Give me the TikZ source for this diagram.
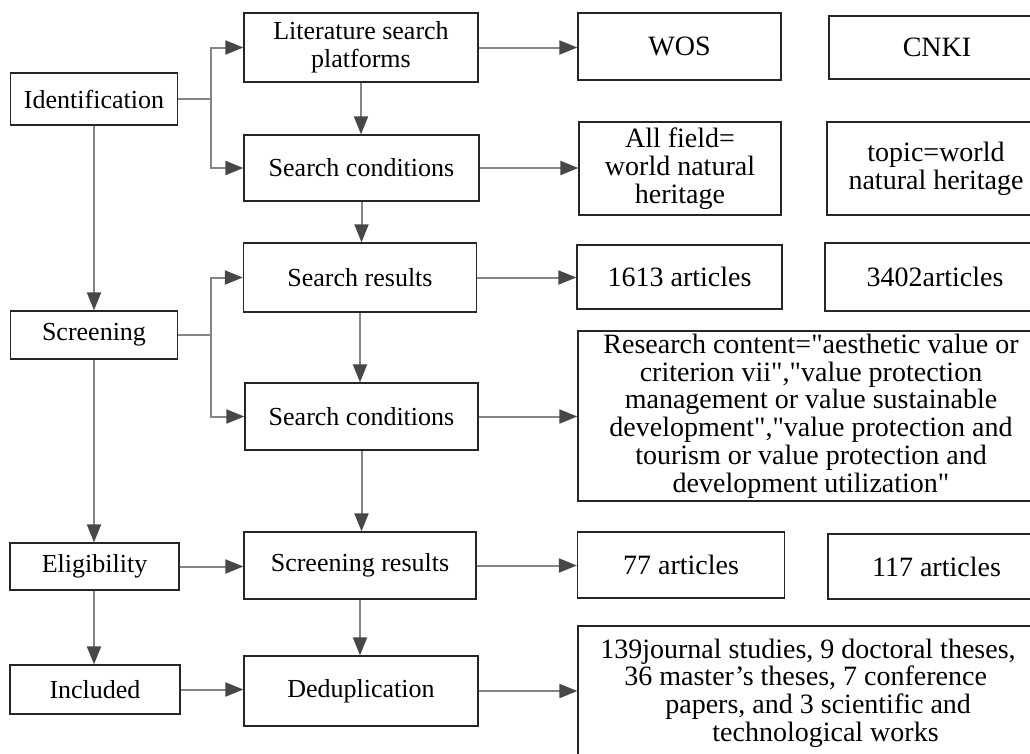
\documentclass[tikz,border=0pt]{standalone}
\usepackage{fontspec}
\setmainfont{Liberation Serif}[Ligatures=TeXOff]
\usetikzlibrary{arrows.meta}
\begin{document}
\begin{tikzpicture}[x=1pt,y=-1pt,
  box/.style={draw=black!85, line width=1.3pt, inner sep=0pt, align=center,
    font=\fontsize{26}{28}\selectfont},
  rbox/.style={box, font=\fontsize{28}{27.8}\selectfont},
  conn/.style={draw=black!48, line width=2pt,
    -{Triangle[length=18pt,width=14pt,color=black!72]}}]
\useasboundingbox (0,0) rectangle (1030,753);
% left column
\node[box, minimum width=167pt, minimum height=52pt] (ident) at (94,99) {Identification};
\node[box, minimum width=167pt, minimum height=48pt] (screen) at (94,335) {Screening};
\node[box, minimum width=169pt, minimum height=47pt] (elig) at (94.5,566.5) {Eligibility};
\node[box, minimum width=170pt, minimum height=49pt] (incl) at (95,689.5) {Included};
% middle column
\node[box, minimum width=234pt, minimum height=69pt] (lsp) at (361,47.5) {Literature search\\platforms};
\node[box, minimum width=235pt, minimum height=66pt] (sc1) at (361.5,168) {Search conditions};
\node[box, minimum width=233pt, minimum height=69pt] (sr) at (360,277.5) {Search results};
\node[box, minimum width=233pt, minimum height=67pt] (sc2) at (361.5,416.5) {Search conditions};
\node[box, minimum width=232pt, minimum height=67pt] (scr) at (360,565.5) {Screening results};
\node[box, minimum width=234pt, minimum height=70pt] (dedup) at (361,691) {Deduplication};
% right columns
\node[rbox, minimum width=203pt, minimum height=67pt] (wos) at (679.5,46.5) {WOS};
\node[rbox, minimum width=202pt, minimum height=93pt] (allf) at (680,168.5) {All field=\\world natural\\heritage};
\node[rbox, minimum width=205pt, minimum height=64pt] (a1613) at (679.5,277) {1613 articles};
\node[rbox, minimum width=466pt, minimum height=170pt] (research) at (811,416)
  {Research content="aesthetic value or\\criterion vii","value protection\\management or value sustainable\\development","value protection and\\tourism or value protection and\\development utilization"};
\node[rbox, minimum width=207pt, minimum height=66pt] (a77) at (681,565) {77 articles};
\node[rbox, align=left, minimum width=460pt, minimum height=134pt] (j139) at (808,693)
  {139journal studies, 9 doctoral theses,\\\hspace*{24pt}36 master’s theses, 7 conference\\\hspace*{65pt}papers, and 3 scientific and\\\hspace*{112pt}technological works};
\node[rbox, minimum width=216pt, minimum height=63pt] (cnki) at (937,47.5) {CNKI};
\node[rbox, minimum width=218pt, minimum height=93pt] (topic) at (936,168.5) {topic=world\\natural heritage};
\node[rbox, minimum width=220pt, minimum height=68pt] (a3402) at (935,277) {3402articles};
\node[rbox, minimum width=217pt, minimum height=65pt] (a117) at (936.5,566.5) {117 articles};
% connectors: forks
\coordinate (f1) at (211,99);
\coordinate (f2) at (211,335);
\draw[conn] (ident.east) -- (f1) |- (lsp.west);
\draw[conn] (f1) |- (sc1.west);
\draw[conn] (screen.east) -- (f2) |- (sr.west);
\draw[conn] (f2) |- (sc2.west);
% left vertical
\draw[conn] (ident.south) -- (screen.north);
\draw[conn] (screen.south) -- (elig.north -| screen.south);
\draw[conn] (elig.south -| screen.south) -- (incl.north -| screen.south);
% left to middle
\draw[conn] (elig.east) -- (elig.east -| scr.west);
\draw[conn] (incl.east) -- (incl.east -| dedup.west);
% middle vertical
\draw[conn] (lsp.south) -- (lsp.south |- sc1.north);
\draw[conn] (sc1.south) -- (sc1.south |- sr.north);
\draw[conn] (sr.south) -- (sr.south |- sc2.north);
\draw[conn] (sc2.south) -- (sc2.south |- scr.north);
\draw[conn] (scr.south) -- (scr.south |- dedup.north);
% middle to right
\draw[conn] (lsp.east) -- (lsp.east -| wos.west);
\draw[conn] (sc1.east) -- (sc1.east -| allf.west);
\draw[conn] (sr.east) -- (sr.east -| a1613.west);
\draw[conn] (sc2.east) -- (sc2.east -| research.west);
\draw[conn] (scr.east) -- (scr.east -| a77.west);
\draw[conn] (dedup.east) -- (dedup.east -| j139.west);
\end{tikzpicture}
\end{document}
